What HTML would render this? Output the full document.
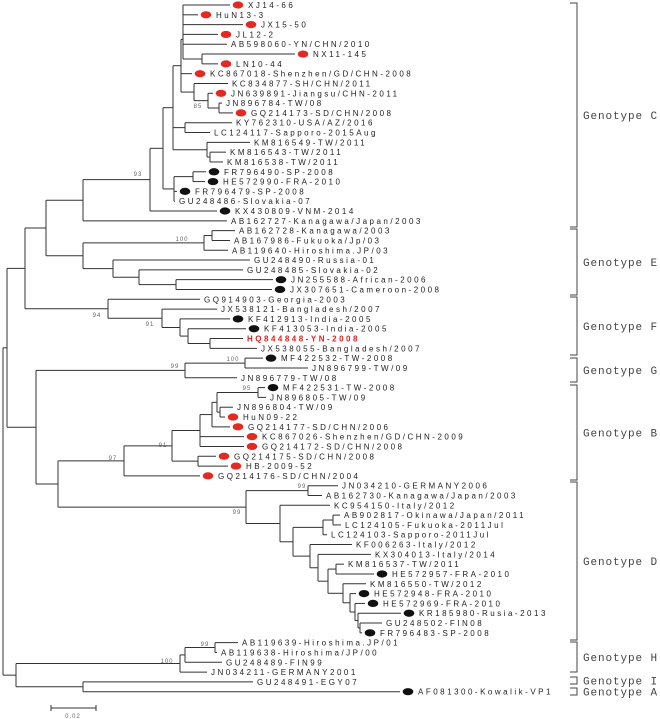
<!DOCTYPE html>
<html><head><meta charset="utf-8"><style>
html,body{margin:0;padding:0;background:#fff;}
svg{display:block;}
.lf{font-family:"Liberation Sans",sans-serif;font-size:8px;letter-spacing:2.5px;fill:#222;}
.bs{font-family:"Liberation Sans",sans-serif;font-size:6px;letter-spacing:1px;fill:#666;}
.gt{font-family:"Liberation Mono",monospace;font-size:11px;letter-spacing:0.9px;fill:#444;}
</style></head><body>
<svg id="tree" width="660" height="719" viewBox="0 0 660 719" xmlns="http://www.w3.org/2000/svg"></svg>
<script>
const leafNames = ["XJ14-66","HuN13-3","JX15-50","JL12-2","AB598060-YN/CHN/2010","NX11-145","LN10-44","KC867018-Shenzhen/GD/CHN-2008","KC834877-SH/CHN/2011","JN639891-Jiangsu/CHN-2011","JN896784-TW/08","GQ214173-SD/CHN/2008","KY762310-USA/AZ/2016","LC124117-Sapporo-2015Aug","KM816549-TW/2011","KM816543-TW/2011","KM816538-TW/2011","FR796490-SP-2008","HE572990-FRA-2010","FR796479-SP-2008","GU248486-Slovakia-07","KX430809-VNM-2014","AB162727-Kanagawa/Japan/2003",
"AB162728-Kanagawa/2003","AB167986-Fukuoka/Jp/03","AB119640-Hiroshima.JP/03","GU248490-Russia-01","GU248485-Slovakia-02","JN255588-African-2006","JX307651-Cameroon-2008",
"GQ914903-Georgia-2003","JX538121-Bangladesh/2007","KF412913-India-2005","KF413053-India-2005","HQ844848-YN-2008","JX538055-Bangladesh/2007",
"MF422532-TW-2008","JN896799-TW/09","JN896779-TW/08",
"MF422531-TW-2008","JN896805-TW/09","JN896804-TW/09","HuN09-22","GQ214177-SD/CHN/2006","KC867026-Shenzhen/GD/CHN-2009","GQ214172-SD/CHN/2008","GQ214175-SD/CHN/2008","HB-2009-52","GQ214176-SD/CHN/2004",
"JN034210-GERMANY2006","AB162730-Kanagawa/Japan/2003","KC954150-Italy/2012","AB902817-Okinawa/Japan/2011","LC124105-Fukuoka-2011Jul","LC124103-Sapporo-2011Jul","KF006263-Italy/2012","KX304013-Italy/2014","KM816537-TW/2011","HE572957-FRA-2010","KM816550-TW/2012","HE572948-FRA-2010","HE572969-FRA-2010","KR185980-Rusia-2013","GU248502-FIN08","FR796483-SP-2008",
"AB119639-Hiroshima.JP/01","AB119638-Hiroshima/JP/00","GU248489-FIN99","JN034211-GERMANY2001","GU248491-EGY07","AF081300-Kowalik-VP1"];
const branchEnds = [230,198,243,218,227,295,218,192,228,213,222,233,232,210,250,226,223,206,205,177,175,217,227,
235,230,228,250,243,273,272,
200,217,230,246,243,257,
263,308,237,
265,266,233,225,230,244,244,216,228,200,
338,322,330,340,341,327,352,371,344,374,366,356,365,401,382,362,
238,217,222,207,253,400];
const dotColors = ["r","r","r","r","","r","r","r","","r","","r","","","","","","b","b","b","","b","",
"","","","","","b","b",
"","","b","b","","",
"b","","",
"b","","","r","r","r","r","r","r","r",
"","","","","","","","","","b","","b","b","b","","b",
"","","","","","b"];
// tree topology: [nodeX, children...]; numbers = leaf index
const cladeC = [150,[163,[173,[181,[183,[183,0,1,2,3],4,[202,5,6]],7,[194,8,[208,9,[219,10,11]]]],[185,12,13],[207,14,[210,15,16]]],[174,[193,17,18],19,20]],21];
const cladeE = [83,[204,[212,23,24],25],[113,26,[139,27,[176,28,29]]]];
const cladeF = [108,30,[162,31,[180,32,[188,33,[210,34,35]]]]];
const cladeG = [185,[245,36,37],38];
const cladeB = [124,[172,[200,[212,[217,[258,39,40],[220,41,42]],43],44,45],[198,46,47]],48];
const cladeD = [246,[308,49,50],[280,51,[293,[323,[333,52,53],54],[310,55,[318,56,[328,[336,57,58],[343,59,[350,60,[355,61,[358,62,[360,63,64]]]]]]]]]]];
const cladeH = [180,[185,[215,65,66],67],68];
const tree = [3,[7,[25,[46,[83,cladeC,22],cladeE],cladeF],[36,cladeG,[58,cladeB,cladeD]]],[16,cladeH,[83,69,70]]];
const bootValues = ["85","93","100","94","91","99","100","95","91","97","99","99","99","100"];
const bootAnchors = [[198,108],[138,176],[182,241],[97,317],[150,326],[175,368],[233,361],[247,390],[163,447],[113,460],[302,488],[237,514],[205,646],[167,663]];
const genotypes = ["C","E","F","G","B","D","H","I","A"];
const genoRanges = [[3,227],[229,295],[297,355],[358,382],[385,480],[482,640],[642,672],[677,684],[688,695]];

const NS="http://www.w3.org/2000/svg";
const svg=document.getElementById('tree');
const rowY=i=>5+i*9.81;
function mk(tag,attrs,parent){const e=document.createElementNS(NS,tag);for(const k in attrs)e.setAttribute(k,attrs[k]);(parent||svg).appendChild(e);return e;}
const gLines=mk('g',{stroke:'#333','stroke-width':'1',fill:'none'});


function line(x1,y1,x2,y2){const l=mk('line',{x1,y1,x2,y2},gLines);return l;}
function nodeX(n){return typeof n==='number'?branchEnds[n]:n[0];}
function nodeY(n){if(typeof n==='number')return rowY(n);const ys=n.slice(1).map(nodeY);return (ys[0]+ys[ys.length-1])/2;}
function draw(n){
  if(typeof n==='number')return;
  const x=n[0],kids=n.slice(1);const ys=kids.map(nodeY);
  line(x,ys[0],x,ys[ys.length-1]);
  kids.forEach((k,j)=>{line(x,ys[j],nodeX(k),ys[j]);draw(k);});
}
draw(tree);
leafNames.forEach((nm,i)=>{
  const y=rowY(i),ex=branchEnds[i],d=dotColors[i];
  if(d){const el=mk('ellipse',{cx:ex+8,cy:y,rx:5.3,ry:3.6,fill:d==='r'?'#e32a22':'#111'});
    
    }
  const t=mk('text',{x:ex+(d?18:4),y:y+3,class:'lf'});
  t.textContent=nm;
  if(nm.indexOf('HQ844848')===0){t.setAttribute('style','fill:#e02020;font-weight:bold');}
  
  
});
bootValues.forEach((v,i)=>{
  const t=mk('text',{x:bootAnchors[i][0],y:bootAnchors[i][1],'text-anchor':'middle',class:'bs'});
  t.textContent=v;
  
  
});
const gB=mk('g',{stroke:'#444','stroke-width':'1',fill:'none'});


genotypes.forEach((g,i)=>{
  const [a,b]=genoRanges[i];
  mk('path',{d:`M570 ${a}H577V${b}H570`},gB);
  const t=mk('text',{x:583,y:(a+b)/2+4,class:'gt'});
  t.textContent='Genotype '+g;
  
  
});
const sb=mk('path',{d:'M51 705V711M51 708H96M96 705V711',stroke:'#333','stroke-width':'1',fill:'none'});


const st=mk('text',{x:73,y:718,'text-anchor':'middle',class:'bs'});
st.textContent='0.02';


</script>
</body></html>
